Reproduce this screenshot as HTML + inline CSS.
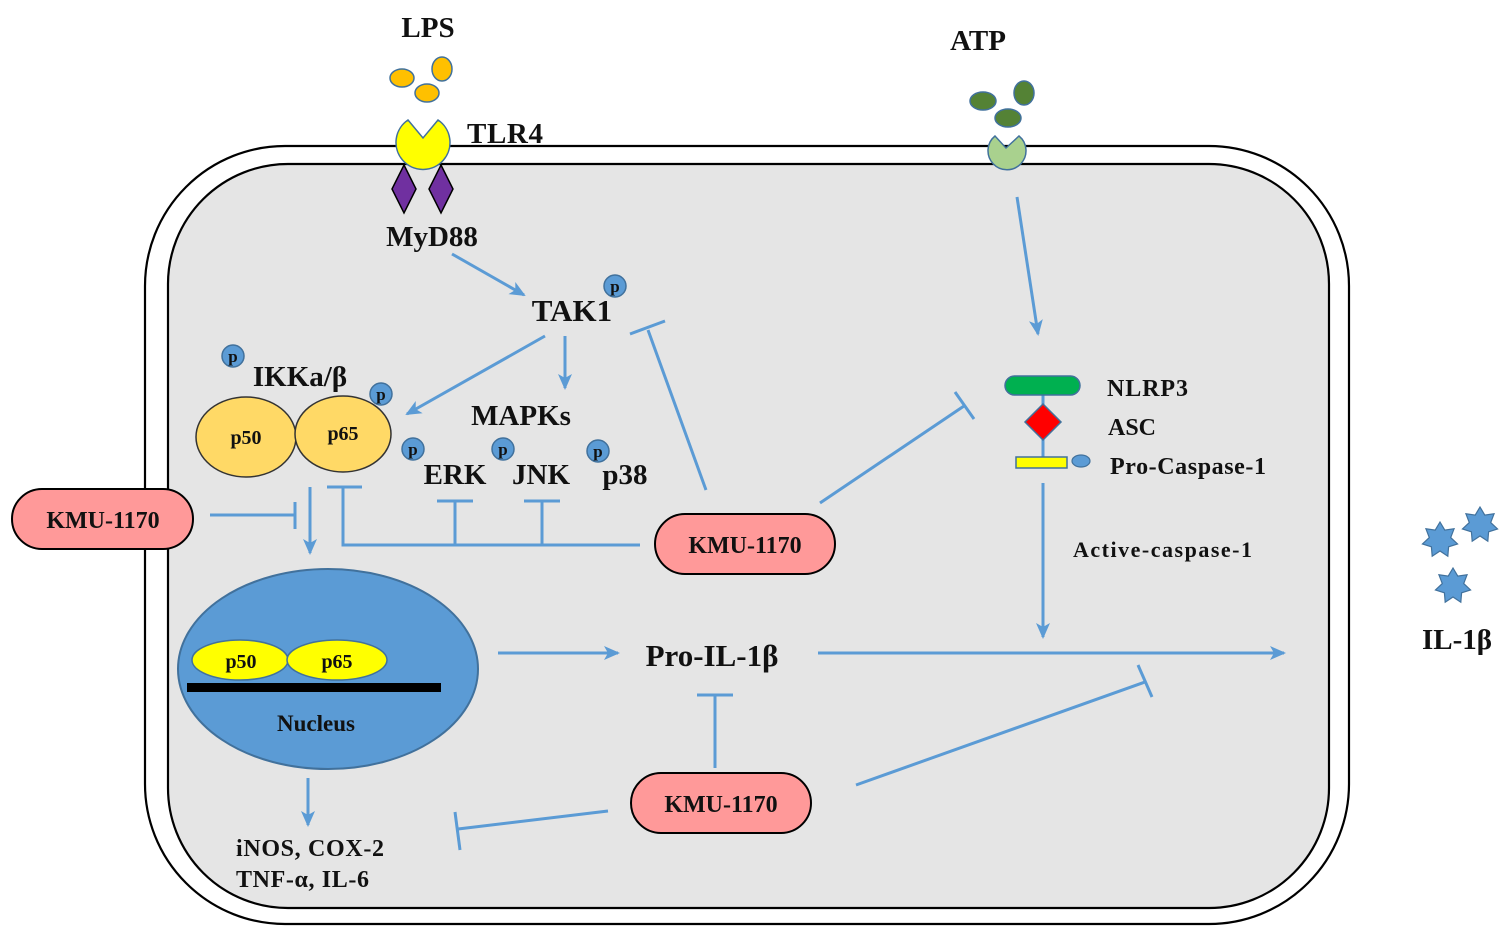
<!DOCTYPE html>
<html><head><meta charset="utf-8"><style>
html,body{margin:0;padding:0;background:#fff;}
svg{display:block;}
text{font-family:"Liberation Serif",serif;font-weight:bold;fill:#111;}
</style></head><body>
<svg width="1511" height="944" viewBox="0 0 1511 944" xmlns="http://www.w3.org/2000/svg">
<defs>
<marker id="a2" markerWidth="18" markerHeight="14" refX="14" refY="7" orient="auto" markerUnits="userSpaceOnUse">
<path d="M0,0 L16,7 L0,14 L4,7 z" fill="#5b9bd5"/>
</marker>
<polygon id="st" points="0,-18 4.77,-9.91 14.07,-11.22 10.72,-2.45 17.55,4 8.6,6.86 7.81,16.22 0,11 -7.81,16.22 -8.6,6.86 -17.55,4 -10.72,-2.45 -14.07,-11.22 -4.77,-9.91" fill="#5b9bd5" stroke="#41719c" stroke-width="1.2"/>
</defs>
<rect x="145" y="146" width="1204" height="778" rx="140" fill="#fff" stroke="#000" stroke-width="2.2"/>
<rect x="168" y="164" width="1161" height="744" rx="120" fill="#e5e5e5" stroke="#000" stroke-width="2.2"/>

<g stroke="#5b9bd5" stroke-width="3" fill="none">
<line x1="452" y1="254" x2="524" y2="295" marker-end="url(#a2)"/>
<line x1="545" y1="336" x2="407" y2="414" marker-end="url(#a2)"/>
<line x1="565" y1="336" x2="565" y2="388" marker-end="url(#a2)"/>
<line x1="706" y1="490" x2="648" y2="330"/><line x1="630" y1="334" x2="665" y2="321"/>
<line x1="210" y1="515" x2="295" y2="515"/><line x1="295" y1="502" x2="295" y2="529"/>
<line x1="310" y1="487" x2="310" y2="553" marker-end="url(#a2)"/>
<polyline points="343,487 343,545 640,545"/><line x1="327" y1="487" x2="362" y2="487"/>
<line x1="455" y1="545" x2="455" y2="501"/><line x1="437" y1="501" x2="473" y2="501"/>
<line x1="542" y1="545" x2="542" y2="501"/><line x1="524" y1="501" x2="560" y2="501"/>
<line x1="820" y1="503" x2="964" y2="406"/><line x1="955" y1="392" x2="974" y2="419"/>
<line x1="1017" y1="197" x2="1038" y2="334" marker-end="url(#a2)"/>
<line x1="1043" y1="394" x2="1043" y2="458"/>
<line x1="1043" y1="483" x2="1043" y2="637" marker-end="url(#a2)"/>
<line x1="498" y1="653" x2="618" y2="653" marker-end="url(#a2)"/>
<line x1="818" y1="653" x2="1284" y2="653" marker-end="url(#a2)"/>
<line x1="715" y1="768" x2="715" y2="695"/><line x1="697" y1="695" x2="733" y2="695"/>
<line x1="856" y1="785" x2="1145" y2="682"/><line x1="1138" y1="665" x2="1152" y2="697"/>
<line x1="608" y1="811" x2="458" y2="829"/><line x1="455" y1="812" x2="460" y2="850"/>
<line x1="308" y1="778" x2="308" y2="825" marker-end="url(#a2)"/>
</g>

<text x="428" y="37" font-size="29" text-anchor="middle">LPS</text>
<g fill="#ffc000" stroke="#41719c" stroke-width="1.5">
<ellipse cx="402" cy="78" rx="12" ry="9"/><ellipse cx="442" cy="69" rx="10" ry="12"/><ellipse cx="427" cy="93" rx="12" ry="9"/>
</g>
<path d="M408,120 A27,27 0 1 0 438,120 L423,138 Z" fill="#ffff00" stroke="#41719c" stroke-width="1.5"/>
<text x="467" y="143" font-size="29" textLength="76">TLR4</text>
<g fill="#7030a0" stroke="#000" stroke-width="1.5">
<path d="M404,165 L416,189 L404,213 L392,189 Z"/><path d="M441,165 L453,189 L441,213 L429,189 Z"/>
</g>
<text x="432" y="246" font-size="29" text-anchor="middle">MyD88</text>
<text x="572" y="321" font-size="31" text-anchor="middle">TAK1</text>

<g fill="#5b9bd5" stroke="#41719c" stroke-width="1.5">
<circle cx="615" cy="286" r="11"/><circle cx="233" cy="356" r="11"/><circle cx="381" cy="394" r="11"/>
<circle cx="413" cy="449" r="11"/><circle cx="503" cy="449" r="11"/><circle cx="598" cy="451" r="11"/>
</g>
<g font-size="17" text-anchor="middle">
<text x="615" y="292">p</text><text x="233" y="362">p</text><text x="381" y="400">p</text>
<text x="413" y="455">p</text><text x="503" y="455">p</text><text x="598" y="457">p</text>
</g>
<text x="300" y="386" font-size="29" text-anchor="middle">IKKa/β</text>
<g fill="#ffd966" stroke="#333" stroke-width="1.5">
<ellipse cx="246" cy="437" rx="50" ry="40"/><ellipse cx="343" cy="434" rx="48" ry="38"/>
</g>
<text x="246" y="444" font-size="20" text-anchor="middle">p50</text>
<text x="343" y="440" font-size="20" text-anchor="middle">p65</text>
<text x="521" y="425" font-size="29" text-anchor="middle">MAPKs</text>
<text x="455" y="484" font-size="29" text-anchor="middle">ERK</text>
<text x="541" y="484" font-size="29" text-anchor="middle">JNK</text>
<text x="625" y="484" font-size="29" text-anchor="middle">p38</text>

<g fill="#ff9999" stroke="#000" stroke-width="2">
<rect x="12" y="489" width="181" height="60" rx="30"/>
<rect x="655" y="514" width="180" height="60" rx="30"/>
<rect x="631" y="773" width="180" height="60" rx="30"/>
</g>
<g font-size="24" text-anchor="middle">
<text x="103" y="528">KMU-1170</text><text x="745" y="553">KMU-1170</text><text x="721" y="812">KMU-1170</text>
</g>

<text x="978" y="50" font-size="29" text-anchor="middle">ATP</text>
<g fill="#548235" stroke="#41719c" stroke-width="1.5">
<ellipse cx="983" cy="101" rx="13" ry="9"/><ellipse cx="1024" cy="93" rx="10" ry="12"/><ellipse cx="1008" cy="118" rx="13" ry="9"/>
</g>
<path d="M995,136 A19,19 0 1 0 1019,136 L1006,148 Z" fill="#a9d18e" stroke="#41719c" stroke-width="1.5"/>

<rect x="1005" y="376" width="75" height="19" rx="9.5" fill="#00b050" stroke="#41719c" stroke-width="1.5"/>
<path d="M1043,404 L1061,422 L1043,440 L1025,422 Z" fill="#ff0000" stroke="#41719c" stroke-width="1.5"/>
<rect x="1016" y="457" width="51" height="11" fill="#ffff00" stroke="#41719c" stroke-width="1.5"/>
<ellipse cx="1081" cy="461" rx="9" ry="6" fill="#5b9bd5" stroke="#41719c" stroke-width="1.2"/>
<text x="1107" y="396" font-size="24" textLength="81">NLRP3</text>
<text x="1108" y="435" font-size="24">ASC</text>
<text x="1110" y="474" font-size="24" textLength="156">Pro-Caspase-1</text>
<text x="1073" y="557" font-size="22" textLength="179">Active-caspase-1</text>

<ellipse cx="328" cy="669" rx="150" ry="100" fill="#5b9bd5" stroke="#41719c" stroke-width="2"/>
<g fill="#ffff00" stroke="#41719c" stroke-width="1.5">
<ellipse cx="240" cy="660" rx="48" ry="20"/><ellipse cx="337" cy="660" rx="50" ry="20"/>
</g>
<text x="241" y="668" font-size="20" text-anchor="middle">p50</text>
<text x="337" y="668" font-size="20" text-anchor="middle">p65</text>
<rect x="187" y="683" width="254" height="9" fill="#000"/>
<text x="316" y="731" font-size="23" text-anchor="middle">Nucleus</text>

<text x="712" y="666" font-size="31" text-anchor="middle">Pro-IL-1β</text>
<text x="236" y="856" font-size="24" textLength="148">iNOS, COX-2</text>
<text x="236" y="887" font-size="24" textLength="133">TNF-α, IL-6</text>

<use href="#st" x="1440" y="540"/>
<use href="#st" x="1480" y="525"/>
<use href="#st" x="1453" y="586"/>
<text x="1457" y="649" font-size="29" text-anchor="middle">IL-1β</text>
</svg>
</body></html>
